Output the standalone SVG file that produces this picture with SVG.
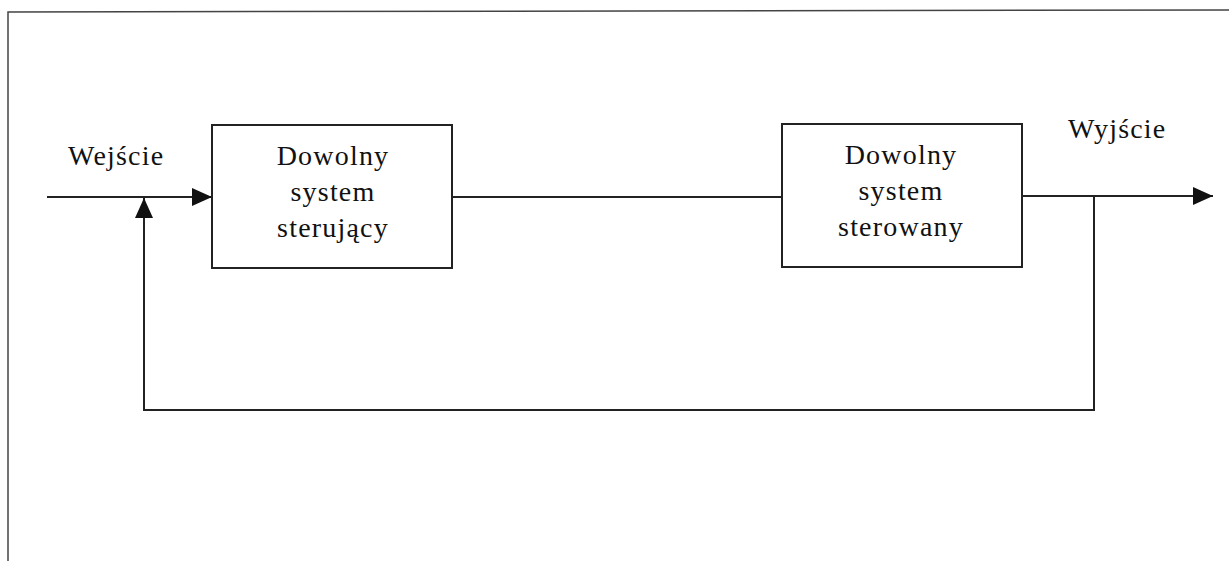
<svg xmlns="http://www.w3.org/2000/svg" width="1229" height="561" viewBox="0 0 1229 561">
  <style>
    .frame { fill: none; stroke: #444; stroke-width: 1.5; }
    .box { fill: #fff; stroke: #222; stroke-width: 2; }
    .wire { fill: none; stroke: #222; stroke-width: 2; }
    .lbl { font-family: "Liberation Serif", "Times New Roman", serif; font-size: 28px; letter-spacing: 1.2px; fill: #111; }
    .mid { text-anchor: middle; }
  </style>
  <defs>
    <marker id="arrow" viewBox="0 0 20 20" refX="20" refY="10" markerWidth="20" markerHeight="20" markerUnits="userSpaceOnUse" orient="auto">
      <path d="M0,1 L20,10 L0,19 Z" fill="#111"/>
    </marker>
  </defs>

  <rect width="1229" height="561" fill="#fff"/>

  <!-- outer page frame -->
  <path class="frame" d="M8,561 L8,12 L1229,10"/>

  <!-- connectors -->
  <g id="connectors">
    <path class="wire" d="M47,197 L212,197" marker-end="url(#arrow)"/>
    <path class="wire" d="M452,197 L782,197"/>
    <path class="wire" d="M1022,196 L1213,196" marker-end="url(#arrow)"/>
    <path class="wire" d="M1094,196 L1094,410 L144,410 L144,198" marker-end="url(#arrow)"/>
  </g>

  <g id="input-label">
    <text class="lbl" x="68" y="165">Wejście</text>
  </g>

  <g id="controller">
    <rect class="box" x="212" y="125" width="240" height="143"/>
    <text class="lbl mid" x="333" y="165">Dowolny</text>
    <text class="lbl mid" x="333" y="201">system</text>
    <text class="lbl mid" x="333" y="237">sterujący</text>
  </g>

  <g id="plant">
    <rect class="box" x="782" y="124" width="240" height="143"/>
    <text class="lbl mid" x="901" y="164">Dowolny</text>
    <text class="lbl mid" x="901" y="200">system</text>
    <text class="lbl mid" x="901" y="236">sterowany</text>
  </g>

  <g id="output-label">
    <text class="lbl" x="1068" y="138">Wyjście</text>
  </g>
</svg>
